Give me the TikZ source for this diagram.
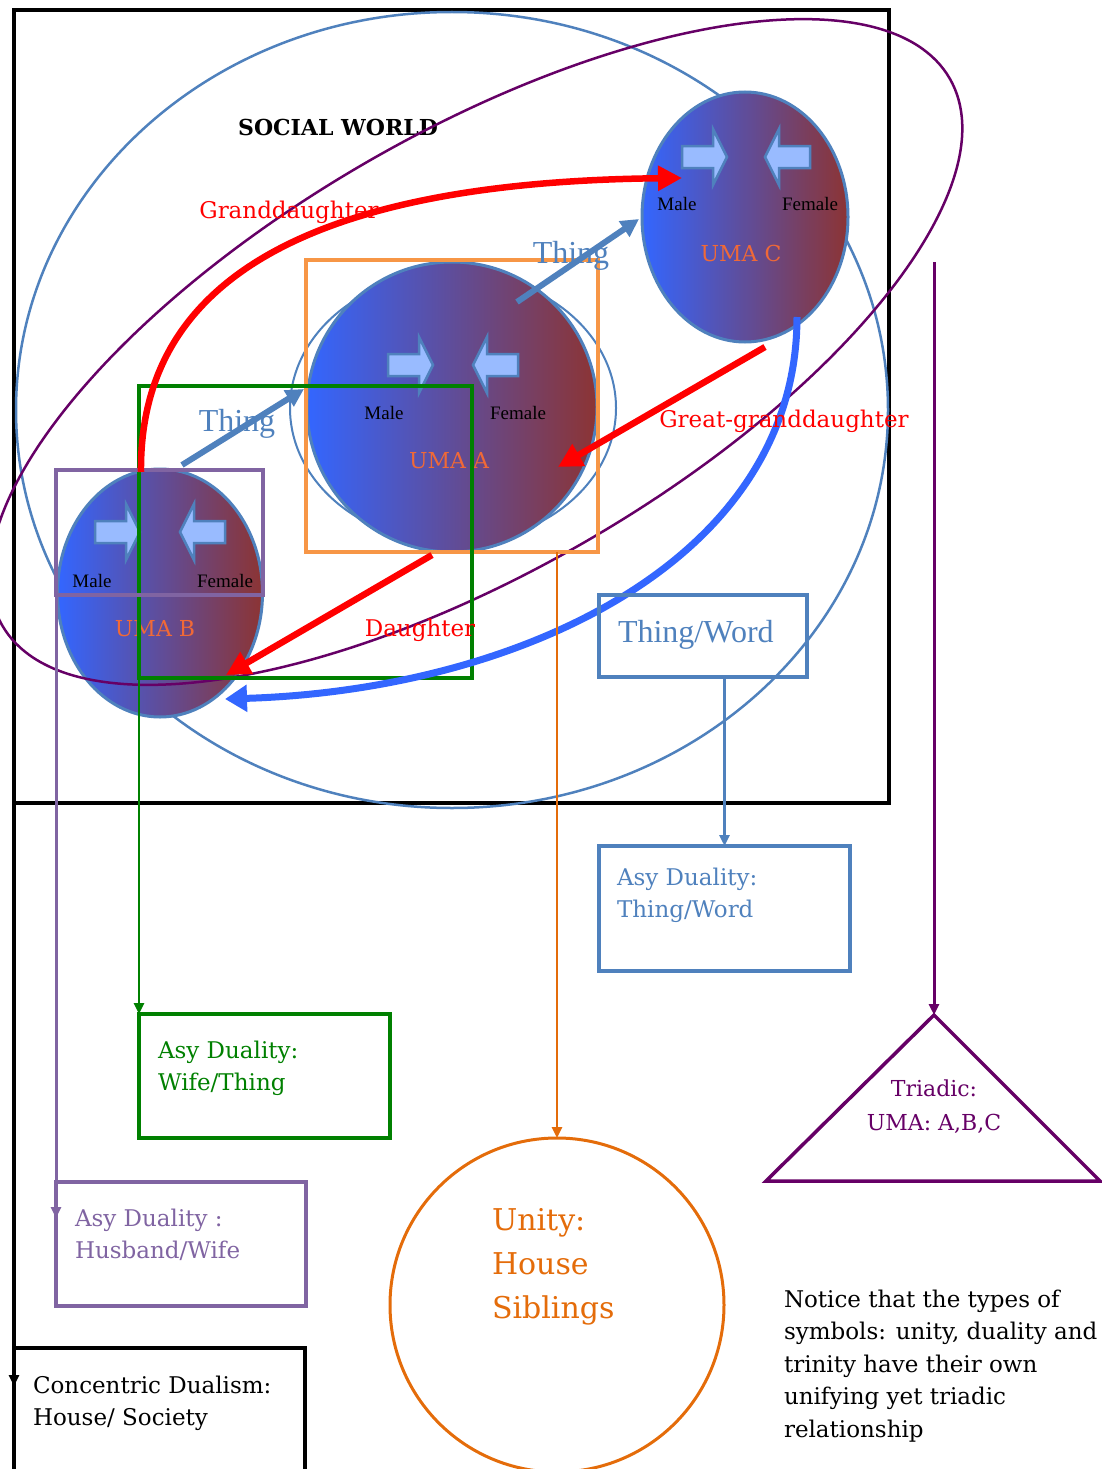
\documentclass[tikz,border=0pt]{standalone}
\usepackage{fontspec}
\setmainfont{DejaVu Serif}
\newfontfamily\tnr{Liberation Serif}
\usetikzlibrary{arrows.meta,shapes.geometric,calc}
\definecolor{steelb}{RGB}{79,129,189}
\definecolor{royalb}{RGB}{51,102,255}
\definecolor{dpurp}{RGB}{102,0,102}
\definecolor{lpurp}{RGB}{128,100,162}
\definecolor{gr}{RGB}{0,128,0}
\definecolor{orbox}{RGB}{247,150,70}
\definecolor{orline}{RGB}{228,108,10}
\definecolor{umaL}{RGB}{51,102,255}
\definecolor{umaR}{RGB}{140,52,52}
\definecolor{umatxt}{RGB}{240,105,55}
\definecolor{arrfill}{RGB}{153,187,255}
\tikzset{
  rarr/.pic={\draw[line width=2.5, draw=steelb, fill=arrfill, line join=miter]
     (-45,-11) -- (-14,-11) -- (-14,-28) -- (0,0) -- (-14,28) -- (-14,11) -- (-45,11) -- cycle;},
  larr/.pic={\draw[line width=2.5, draw=steelb, fill=arrfill, line join=miter]
     (45,-11) -- (14,-11) -- (14,-28) -- (0,0) -- (14,28) -- (14,11) -- (45,11) -- cycle;}
}
\begin{document}
\begin{tikzpicture}[x=1pt,y=-1pt,
  uma/.style={ellipse, draw=steelb, line width=3, left color=umaL, right color=umaR, inner sep=0, outer sep=0},
  rbox/.style={draw, line width=4, anchor=north west, inner sep=0, outer sep=0},
  txt/.style={inner sep=0, outer sep=0},
  mf/.style={txt, font=\tnr\fontsize{19}{19}\selectfont, text=black},
  umal/.style={txt, font=\fontsize{22}{22}\selectfont, text=umatxt},
  redl/.style={txt, font=\fontsize{23}{23}\selectfont, text=red},
  thingl/.style={txt, font=\tnr\fontsize{32}{32}\selectfont, text=steelb},
  boxt/.style={txt, anchor=north west, align=left, font=\fontsize{23}{32}\selectfont},
  redarr/.style={draw=red, line width=6.5, -{Triangle[length=24pt,width=24pt]}},
  thingarr/.style={draw=steelb, line width=6, -{Triangle[length=18pt,width=18pt]}},
  conn/.style={line width=2.5, -{Triangle[length=11pt,width=10pt]}},
]
\useasboundingbox (0,0) rectangle (1102,1469);

% social world frame and big ellipse
\node[rbox, draw=black, line width=4.5, minimum width=875, minimum height=793] (world) at (14,10) {};
\node[ellipse, draw=steelb, line width=2.5, minimum width=872, minimum height=796, inner sep=0] (swell) at (452,410) {};
\node[txt, font=\bfseries\fontsize{22}{22}\selectfont] (swt) at (338,127) {SOCIAL WORLD};

% UMA ellipses
\node[ellipse, draw=steelb, line width=2, minimum width=326, minimum height=270, inner sep=0] (Aout) at (453,408) {};
\node[uma, minimum width=290, minimum height=290] (A) at (452,407) {};
\node[uma, minimum width=206, minimum height=250] (C) at (745,217) {};
\node[uma, minimum width=205, minimum height=248] (B) at (160,593) {};

\pic at (727,157) {rarr}; \pic at (765,157) {larr};
\pic at (433,365) {rarr}; \pic at (473,365) {larr};
\pic at (140,532) {rarr}; \pic at (180,532) {larr};

\node[mf] (Cm) at (677,204) {Male};
\node[mf] (Cf) at (810,204) {Female};
\node[umal] (Cl) at (741,253) {UMA C};
\node[mf] (Am) at (384,413) {Male};
\node[mf] (Af) at (518,413) {Female};
\node[umal] (Al) at (449,461) {UMA A};
\node[mf] (Bm) at (92,581) {Male};
\node[mf] (Bf) at (225,581) {Female};
\node[umal] (Bl) at (155,629) {UMA B};

% purple loop (tilted ellipse)
\node[ellipse, draw=dpurp, line width=2.5, minimum width=1094, minimum height=438, inner sep=0, rotate=30] (triloop) at (476,352) {};

% rectangles around UMAs
\node[rbox, draw=orbox, line width=4, minimum width=292, minimum height=292] (obox) at (306,260) {};
\node[rbox, draw=gr, line width=4, minimum width=333, minimum height=292] (gbox) at (139,386) {};
\node[rbox, draw=lpurp, line width=4, minimum width=207, minimum height=125] (pbox) at (56,470) {};

% Thing arrows
\coordinate (t1s) at (182,465); \coordinate (t1e) at (304,389);
\draw[thingarr] (t1s) -- (t1e);
\node[thingl] (thing1) at (237,424) {Thing};
\coordinate (t2s) at (517,302); \coordinate (t2e) at (639,219);
\draw[thingarr] (t2s) -- (t2e);
\node[thingl] (thing2) at (571,256) {Thing};

% red kinship arrows
\coordinate (gd1) at (141,472); \coordinate (gd2) at (682,178);
\draw[redarr] (gd1) .. controls (139,280) and (310,182) .. (gd2);
\coordinate (gg1) at (765,347); \coordinate (gg2) at (558,467);
\draw[redarr] (gg1) -- (gg2);
\coordinate (d1) at (432,555); \coordinate (d2) at (226,675);
\draw[redarr] (d1) -- (d2);

% blue return arrow
\coordinate (bl1) at (797,317); \coordinate (bl2) at (225,699);
\draw[draw=royalb, line width=7, -{Triangle[length=22pt,width=26pt]}] (bl1) .. controls (797,560) and (520,690) .. (bl2);

\node[redl] (gdl) at (289,212) {Granddaughter};
\node[redl] (ggl) at (784,421) {Great-granddaughter};
\node[redl] (dl) at (420,630) {Daughter};

% Thing/Word
\node[rbox, draw=steelb, line width=4.5, minimum width=208, minimum height=82] (tw) at (599,595) {};
\node[txt, anchor=base west, font=\tnr\fontsize{32}{32}\selectfont, text=steelb] (twl) at (618,642) {Thing/Word};

% lower boxes
\node[rbox, draw=steelb, line width=4.5, minimum width=251, minimum height=125] (atw) at (599,846) {};
\node[boxt, text=steelb] (atwl) at (617,868) {Asy Duality:\\Thing/Word};
\node[rbox, draw=gr, line width=4, minimum width=251, minimum height=124] (awt) at (139,1014) {};
\node[boxt, text=gr] (awtl) at (158,1041) {Asy Duality:\\Wife/Thing};
\node[rbox, draw=lpurp, line width=4, minimum width=250, minimum height=124] (ahw) at (56,1182) {};
\node[boxt, text=lpurp] (ahwl) at (75,1209) {Asy Duality :\\Husband/Wife};
\node[rbox, draw=black, line width=4.5, minimum width=291, minimum height=140] (cd) at (14,1348) {};
\node[boxt, text=black] (cdl) at (33,1376) {Concentric Dualism:\\House/ Society};

\node[circle, draw=orline, line width=3, minimum size=334, inner sep=0, outer sep=0] (un) at (557,1305) {};
\node[txt, anchor=north west, align=left, font=\fontsize{30}{44}\selectfont, text=orline] (unl) at (492,1208) {Unity:\\House\\Siblings};

\coordinate (tapex) at (934,1015); \coordinate (tbl) at (766,1181); \coordinate (tbr) at (1100,1181);
\draw[dpurp, line width=3.5, line join=miter] (tapex) -- (tbr) -- (tbl) -- cycle;
\node[txt, anchor=north, align=center, font=\fontsize{22}{34}\selectfont, text=dpurp] (tri) at (934,1080) {Triadic:\\UMA: A,B,C};

\node[txt, anchor=north west, align=left, font=\fontsize{23}{32.5}\selectfont] (note) at (784,1290)
  {Notice that the types of\\symbols: unity, duality and\\trinity have their own\\unifying yet triadic\\relationship};

% connectors
\draw[conn, draw=orline] (un.north |- obox.south) -- (un.north);
\draw[conn, draw=gr] (gbox.south west) -- (awt.north west);
\coordinate (hwtip) at (56,1218);
\draw[conn, draw=lpurp, line width=3] (pbox.south west) -- (hwtip);
\coordinate (cdtip) at (14,1386);
\draw[conn, draw=black, line width=3.5] (world.south west) -- (cdtip);
\draw[conn, draw=steelb, line width=3] (atw.north |- tw.south) -- (atw.north);
\coordinate (ptop) at (934,262);
\draw[conn, draw=dpurp, line width=3] (ptop) -- (tapex);
\end{tikzpicture}
\end{document}
